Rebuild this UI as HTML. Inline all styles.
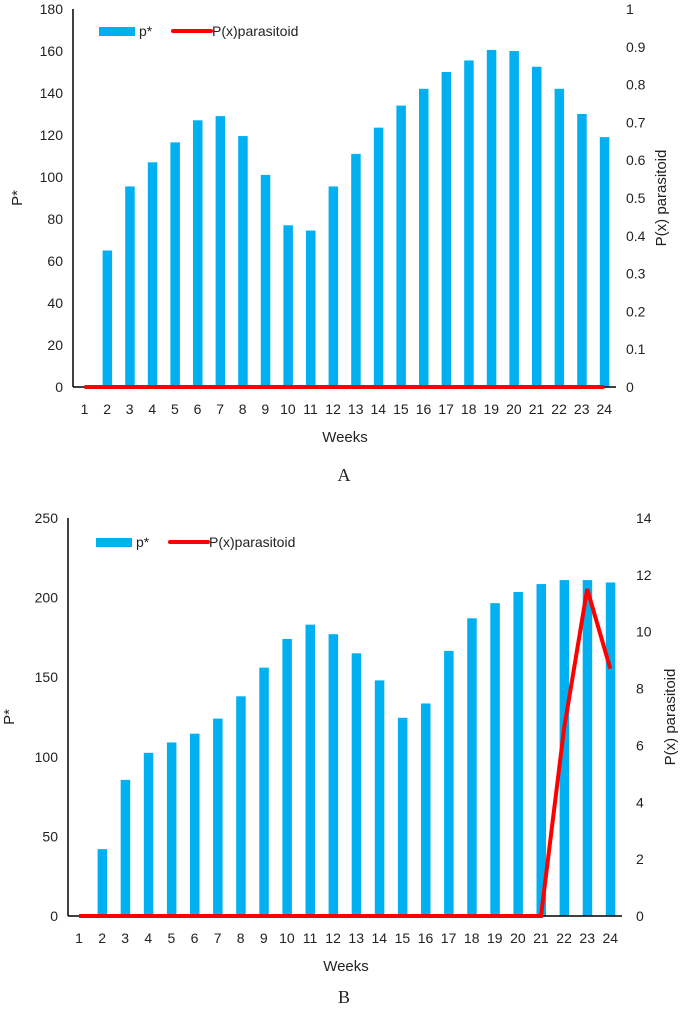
<!DOCTYPE html>
<html><head><meta charset="utf-8">
<style>
body{margin:0;background:#fff;width:685px;height:1021px;overflow:hidden}
svg{display:block;font-family:"Liberation Sans",sans-serif}
text{fill:#222}
</style></head>
<body>
<svg id="s" width="685" height="1021"></svg>
<script>
const weeks=[1,2,3,4,5,6,7,8,9,10,11,12,13,14,15,16,17,18,19,20,21,22,23,24];
const pA=[0,65,95.5,107,116.5,127,129,119.5,101,77,74.5,95.5,111,123.5,134,142,150,155.5,160.5,160,152.5,142,130,119];
const parA=[0,0,0,0,0,0,0,0,0,0,0,0,0,0,0,0,0,0,0,0,0,0,0,0];
const pB=[0,42,85.5,102.5,109,114.5,124,138,156,174,183,177,165,148,124.5,133.5,166.5,187,196.5,203.5,208.5,211,211,209.5];
const parB=[0,0,0,0,0,0,0,0,0,0,0,0,0,0,0,0,0,0,0,0,0,6.6,11.5,8.7];
const leftTicksA=[0,20,40,60,80,100,120,140,160,180];
const rightTicksA=[0,0.1,0.2,0.3,0.4,0.5,0.6,0.7,0.8,0.9,1];
const leftTicksB=[0,50,100,150,200,250];
const rightTicksB=[0,2,4,6,8,10,12,14];
const NS="http://www.w3.org/2000/svg";
const svg=document.getElementById('s');
function el(tag,attrs,parent,txt){const e=document.createElementNS(NS,tag);for(const k in attrs)e.setAttribute(k,attrs[k]);if(txt!==undefined)e.textContent=txt;(parent||svg).appendChild(e);return e;}
function chart(c){
  const g=el('g',{});
  
  
  const yL=v=>c.base-(v/c.lmax)*(c.base-c.top);
  const yR=v=>c.base-(v/c.rmax)*(c.base-c.top);
  const x=i=>c.x0+i*c.dx;
  c.lt.forEach(t=>{const e=el('text',{x:c.ax-10,y:yL(t)+5,'text-anchor':'end','font-size':14},g,t);
    });
  c.rt.forEach(t=>{const e=el('text',{x:c.rx,y:yR(t)+5,'font-size':14},g,t);
    });
  c.p.forEach((v,i)=>{const r=el('rect',{x:x(i)-4.5,y:yL(v),width:9.5,height:c.base-yL(v),fill:'#00b0f0'},g);
    });
  const ax=el('line',{x1:c.ax,y1:c.top,x2:c.ax,y2:c.base,stroke:'#000','stroke-width':1.5},g);
  
  const bx=el('line',{x1:c.ax,y1:c.base,x2:c.xend,y2:c.base,stroke:'#000','stroke-width':1.5},g);
  
  const ln=el('polyline',{points:c.par.map((v,i)=>x(i)+','+yR(v)).join(' '),fill:'none',stroke:'#ff0000','stroke-width':4,'stroke-linejoin':'miter'},g);
  
  weeks.forEach((w,i)=>{const e=el('text',{x:x(i),y:c.base+27,'text-anchor':'middle','font-size':14},g,w);
    });
  const xt=el('text',{x:c.xtx,y:c.base+55,'text-anchor':'middle','font-size':15},g,'Weeks');
  
  const yt=el('text',{transform:`translate(${c.ytx},${(c.top+c.base)/2}) rotate(-90)`,'text-anchor':'middle','font-size':15},g,'P*');
  
  const rt=el('text',{transform:`translate(${c.rtx},${(c.top+c.base)/2}) rotate(-90)`,'text-anchor':'middle','font-size':15},g,c.rtitle);
  
  const lg=el('g',{},g);
  
  el('rect',{x:c.lgx,y:c.lgy-4,width:36,height:9,fill:'#00b0f0'},lg);
  el('text',{x:c.lgx+40,y:c.lgy+5,'font-size':14},lg,'p*');
  el('line',{x1:c.lgx+74,y1:c.lgy,x2:c.lgx+112,y2:c.lgy,stroke:'#ff0000','stroke-width':4,'stroke-linecap':'round'},lg);
  el('text',{x:c.lgx+113,y:c.lgy+5,'font-size':14},lg,'P(x)parasitoid');
  const cap=el('text',{x:c.capx,y:c.capy,'text-anchor':'middle','font-size':18,'font-family':'Liberation Serif, serif'},g,c.cap);
  
}
chart({name:'chart-a',p:pA,par:parA,lt:leftTicksA,rt:rightTicksA,lmax:180,rmax:1,top:9,base:387,ax:73,xend:616,x0:84.5,dx:22.6,rx:626,xtx:345,ytx:22,rtx:666,rtitle:'P(x) parasitoid',lgx:99,lgy:31,capx:344,capy:481,cap:'A'});
chart({name:'chart-b',p:pB,par:parB,lt:leftTicksB,rt:rightTicksB,lmax:250,rmax:14,top:518,base:916,ax:68,xend:622,x0:79,dx:23.1,rx:636,xtx:346,ytx:14,rtx:675,rtitle:'P(x) parasitoid',lgx:96,lgy:542,capx:344,capy:1003,cap:'B'});
</script>
</body></html>
